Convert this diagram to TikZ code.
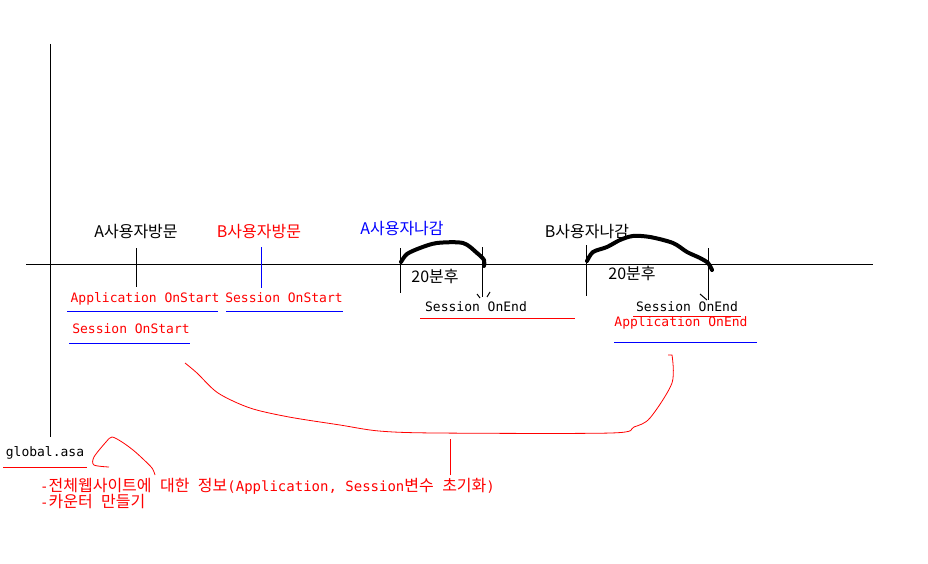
\documentclass[tikz,border=0pt]{standalone}
\usepackage{fontspec}
\setmainfont{Noto Sans CJK KR}
\setmonofont{DejaVu Sans Mono}
\newfontfamily\hangul{Noto Sans CJK KR}
\newcommand{\kor}[1]{{\hangul\fontsize{16}{18}\selectfont #1}}
\tikzset{
  kor/.style={font=\hangul\fontsize{16}{18}\selectfont, inner sep=0pt},
  ev/.style={font=\ttfamily\fontsize{13}{15}\selectfont, inner sep=0pt},
  note/.style={font=\ttfamily\fontsize{14}{16}\selectfont, inner sep=0pt, red, anchor=west},
  axisline/.style={line width=1pt},
  tickline/.style={line width=1pt},
  wait/.style={line width=4pt, line cap=round, line join=round},
  uline/.style={line width=1pt}
}
\begin{document}
\begin{tikzpicture}[x=1pt,y=-1pt]
  \useasboundingbox (0,0) rectangle (928,564);
  % axes
  \draw[axisline] (50,44) -- (50,437);
  \draw[axisline] (26,264) -- (873,264);
  \draw
    (136,232) node[kor] (avisit){A사용자방문}
    (259,232) node[kor,red] (bvisit){B사용자방문}
    (402,229) node[kor,blue] (aleave){A사용자나감}
    (587,232) node[kor] (bleave){B사용자나감}
    (435,276) node[kor] (waita){20분후}
    (632,273) node[kor] (waitb){20분후}
    (145,299) node[ev,red] (appstart){Application OnStart}
    (284,298) node[ev,red] (sessstartb){Session OnStart}
    (131,329) node[ev,red] (sessstarta){Session OnStart}
    (476,307) node[ev] (sessenda){Session OnEnd}
    (687,307) node[ev] (sessendb){Session OnEnd}
    (681,323) node[ev,red] (append){Application OnEnd}
    (45,453) node[ev] (glob){global.asa}
    (40,486) node[note] (info){-\kor{전체웹사이트에} \kor{대한} \kor{정보}(Application, Session\kor{변수} \kor{초기화})}
    (40,502) node[note] (counter){-\kor{카운터} \kor{만들기}};
  % ticks on the time line
  \begin{scope}[tickline]
    \draw (136.5,248) -- (136.5,287);
    \draw[blue] (261.5,247) -- (261.5,288);
    \draw (400.5,248) -- (400.5,293);
    \draw (482.5,247) -- (482.5,297);
    \draw (586.5,245) -- (586.5,296);
    \draw (708.5,248) -- (708.5,300);
    \draw (477,294) -- (480,298);
    \draw (490,292) -- (487,297);
    \draw (700,294) -- (707,300);
  \end{scope}
  % underlines
  \begin{scope}[uline]
    \draw[blue] (67,311) -- (218,311);
    \draw[blue] (226,311) -- (343,311);
    \draw[blue] (69,343) -- (190,343);
    \draw[red] (420,318) -- (575,318);
    \draw[red] (633,316) -- (741,316);
    \draw[blue] (614,342) -- (757,342);
    \draw[red] (3,467) -- (87,467);
  \end{scope}
  % 20 minutes
  \draw[wait] plot[smooth] coordinates {(401,262) (407,254) (420,248) (437,243) (463,243) (477,253) (484,260) (484,266)};
  \draw[wait] plot[smooth] coordinates {(587,261) (593,252) (607,247) (620,240) (633,236) (650,237) (673,243) (687,252) (700,258) (708,263) (712,270)};
  % global.asa scope
  \begin{scope}[red, line width=0.8pt]
    \draw plot[smooth] coordinates {(185,363) (197,373) (218,393) (250,408) (289,417) (340,425) (379,431) (436,433) (611,433) (634,427) (650,418) (672,383) (672,355)} -- (668,355);
    \draw (450,439) -- (450,475);
    \draw plot[smooth] coordinates {(109,467) (94,465) (94,457) (106,442) (112,437) (122,442) (133,450) (142,458) (152,468) (155,475)};
  \end{scope}
\end{tikzpicture}
\end{document}
